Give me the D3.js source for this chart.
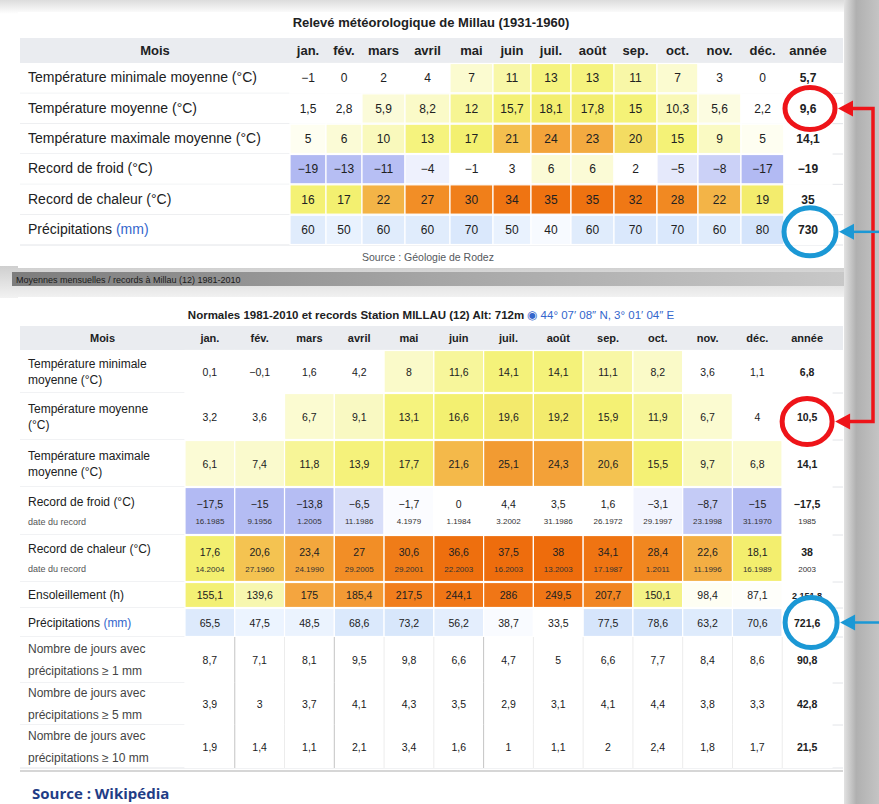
<!DOCTYPE html>
<html><head><meta charset="utf-8">
<script src="https://cdn.jsdelivr.net/npm/d3@7"></script>
<style>body{margin:0;background:#fff;} svg{display:block;font-family:"Liberation Sans",Arial,sans-serif;}</style>
</head><body><svg id="c" width="879" height="804"></svg>
<script>
// ---------- DATA : table 1 (1931-1960) ----------
const moisTop = ["jan.","fév.","mars","avril","mai","juin","juil.","août","sep.","oct.","nov.","déc.","année"];
const topTmin   = [-1, 0, 2, 4, 7, 11, 13, 13, 11, 7, 3, 0, 5.7];
const topTmoy   = [1.5, 2.8, 5.9, 8.2, 12, 15.7, 18.1, 17.8, 15, 10.3, 5.6, 2.2, 9.6];
const topTmax   = [5, 6, 10, 13, 17, 21, 24, 23, 20, 15, 9, 5, 14.1];
const topFroid  = [-19, -13, -11, -4, -1, 3, 6, 6, 2, -5, -8, -17, -19];
const topChaleur= [16, 17, 22, 27, 30, 34, 35, 35, 32, 28, 22, 19, 35];
const topPrecip = [60, 50, 60, 60, 70, 50, 40, 60, 70, 70, 60, 80, 730];
const topRows = ["Température minimale moyenne (°C)","Température moyenne (°C)","Température maximale moyenne (°C)","Record de froid (°C)","Record de chaleur (°C)","Précipitations"];

// ---------- DATA : table 2 (1981-2010) ----------
const moisBot = ["jan.","fév.","mars","avril","mai","juin","juil.","août","sep.","oct.","nov.","déc.","année"];
const botTmin   = [0.1, -0.1, 1.6, 4.2, 8.0, 11.6, 14.1, 14.1, 11.1, 8.2, 3.6, 1.1, 6.8];
const botTmoy   = [3.2, 3.6, 6.7, 9.1, 13.1, 16.6, 19.6, 19.2, 15.9, 11.9, 6.7, 4, 10.5];
const botTmax   = [6.1, 7.4, 11.8, 13.9, 17.7, 21.6, 25.1, 24.3, 20.6, 15.5, 9.7, 6.8, 14.1];
const botFroid  = [-17.5, -15, -13.8, -6.5, -1.7, 0, 4.4, 3.5, 1.6, -3.1, -8.7, -15, -17.5];
const botFroidDates = ["16.1985","9.1956","1.2005","11.1986","4.1979","1.1984","3.2002","31.1986","26.1972","29.1997","23.1998","31.1970","1985"];
const botChaleur= [17.6, 20.6, 23.4, 27, 30.6, 36.6, 37.5, 38, 34.1, 28.4, 22.6, 18.1, 38];
const botChaleurDates = ["14.2004","27.1960","24.1990","29.2005","29.2001","22.2003","16.2003","13.2003","17.1987","1.2011","11.1996","16.1989","2003"];
const botSoleil = [155.1, 139.6, 175, 185.4, 217.5, 244.1, 286, 249.5, 207.7, 150.1, 98.4, 87.1, 2151.8];
const botPrecip = [65.5, 47.5, 48.5, 68.6, 73.2, 56.2, 38.7, 33.5, 77.5, 78.6, 63.2, 70.6, 721.6];
const botJ1  = [8.7, 7.1, 8.1, 9.5, 9.8, 6.6, 4.7, 5, 6.6, 7.7, 8.4, 8.6, 90.8];
const botJ5  = [3.9, 3.0, 3.7, 4.1, 4.3, 3.5, 2.9, 3.1, 4.1, 4.4, 3.8, 3.3, 42.8];
const botJ10 = [1.9, 1.4, 1.1, 2.1, 3.4, 1.6, 1.0, 1.1, 2.0, 2.4, 1.8, 1.7, 21.5];

// ---------- helpers ----------
const svg = d3.select("#c");
const defs = svg.append("defs");
const frNum = v => {
  if (Math.abs(v) >= 1000) return d3.format(",.1f")(v).replace(/,/g," ").replace(".",",");
  return String(v).replace(".",",").replace("-","−");
};
const tempColor = d3.scaleLinear()
  .domain([-20,-10,-7,-4,-1,4.5,6,10,13,17,19.7,20.5,23,27,31,38])
  .range(["#b0b8f2","#b8c0f4","#d4daf8","#eef1fd","#ffffff","#ffffff","#fbfbd6","#f9f9bc","#f5f37e","#f3f070","#f3ea6c","#f4c452","#f3aa40","#f28e26","#ef7a16","#ee6c0c"])
  .clamp(true);
const sunColor = d3.scaleLinear().domain([80,120,140,155,170,200,230]).range(["#ffffff","#fcfce4","#f7f7ae","#f3f074","#f4aa44","#f28a26","#f07616"]).clamp(true);
const rainColor = d3.scaleLinear().domain([35,45,60,80]).range(["#ffffff","#eef5ff","#e0ecfc","#d4e4fb"]).clamp(true);

// gradients
function lin(id, x2, y2, stops){
  const g = defs.append("linearGradient").attr("id",id).attr("x1",0).attr("y1",0).attr("x2",x2).attr("y2",y2);
  stops.forEach(s=>g.append("stop").attr("offset",s[0]).attr("stop-color",s[1]));
}
lin("gRight",1,0,[[0,"#e2e2e2"],[0.35,"#b0b0b0"],[1,"#c4c4c4"]]);
lin("gTop",0,1,[[0,"#dcdcdc"],[1,"#ffffff"]]);
lin("gBar",1,0,[[0,"#7d7d7d"],[0.5,"#a5a5a5"],[1,"#c8c8c8"]]);
lin("gMid",0,1,[[0,"#cfcfcf"],[1,"#f2f2f2"]]);

// background pieces
svg.append("rect").attr("x",0).attr("y",0).attr("width",879).attr("height",14).attr("fill","url(#gTop)");
svg.append("rect").attr("x",0).attr("y",266).attr("width",845).attr("height",32).attr("fill","url(#gMid)");
svg.append("rect").attr("x",12).attr("y",272).attr("width",833).attr("height",14).attr("fill","url(#gBar)");
svg.append("text").attr("x",16).attr("y",282.5).attr("font-size",9).attr("fill","#1a1a1a")
  .text("Moyennes mensuelles / records à Millau (12) 1981-2010");
svg.append("rect").attr("x",18).attr("y",12).attr("width",826).attr("height",256).attr("fill","#fff");
svg.append("rect").attr("x",18).attr("y",297).attr("width",826).attr("height",476).attr("fill","#fff");
svg.append("rect").attr("x",844).attr("y",0).attr("width",35).attr("height",804).attr("fill","url(#gRight)");

// ---------- generic table drawing ----------
function drawTable(cfg){
  const g = svg.append("g");
  const {x, xw, rows, yOf, hOf, labelX0, labelX1, headerY0, headerY1, fsVal, fsHead, fsLab} = cfg;
  g.append("rect").attr("x",labelX0).attr("y",headerY0).attr("width",cfg.right-labelX0).attr("height",headerY1-headerY0).attr("fill","#eaecf0");
  g.append("text").attr("x",(labelX0+labelX1)/2).attr("y",(headerY0+headerY1)/2+4).attr("text-anchor","middle")
    .attr("font-size",fsHead).attr("font-weight","bold").attr("fill","#202122").text("Mois");
  g.selectAll("text.h").data(cfg.mois).join("text").attr("class","h")
    .attr("x",d=>x(d)+xw(d)/2).attr("y",(headerY0+headerY1)/2+4).attr("text-anchor","middle")
    .attr("font-size",fsHead).attr("font-weight","bold").attr("fill","#202122").text(d=>d);
  rows.forEach(r=>{
    const y0 = yOf(r.key), h = hOf(r.key);
    g.append("rect").attr("x",labelX0).attr("y",y0).attr("width",labelX1-labelX0).attr("height",h).attr("fill","#fff");
    g.append("line").attr("x1",labelX0).attr("x2",cfg.right).attr("y1",y0+h).attr("y2",y0+h).attr("stroke","#e2e4e8").attr("stroke-width",1);
    const lines = r.label;
    const lt = g.append("text").attr("x",labelX0+8).attr("font-size",fsLab).attr("fill", r.labFill || "#202122");
    lines.forEach((ln,i)=>{
      const ts = lt.append("tspan").attr("x",labelX0+8)
        .attr("y", y0 + h/2 + 4 + (i-(lines.length-1)/2)*(r.lineGap||16));
      if (ln.small) ts.attr("font-size",fsLab-3).attr("fill","#555");
      if (ln.link){ ts.text(ln.t); ts.append("tspan").attr("fill","#3366cc").text(" ("+ln.link+")"); }
      else ts.text(ln.t);
    });
    const cells = r.vals.map((v,i)=>({v,m:cfg.mois[i],i}));
    g.selectAll(null).data(cells).join("rect")
      .attr("x",d=>x(d.m)).attr("y",y0+0.5).attr("width",d=>xw(d.m)).attr("height",h-1)
      .attr("fill",d=> d.i===12 ? "#fff" : (r.color? r.color(d.v) : "#fff"))
      .attr("stroke","#fff").attr("stroke-width",1.2);
    g.selectAll(null).data(cells).join("text")
      .attr("x",d=>x(d.m)+xw(d.m)/2).attr("y",y0+h/2+(r.dates? -3 : 4))
      .attr("text-anchor","middle")
      .attr("font-size",d=> (d.i===12 && Math.abs(d.v)>=1000) ? fsVal-1.5 : fsVal)
      .attr("font-weight",d=>d.i===12?"bold":"normal").attr("fill","#202122").text(d=>frNum(d.v));
    if (r.dates){
      g.selectAll(null).data(r.dates.map((v,i)=>({v,m:cfg.mois[i]}))).join("text")
        .attr("x",d=>x(d.m)+xw(d.m)/2).attr("y",y0+h/2+13)
        .attr("text-anchor","middle").attr("font-size",fsVal-2.5).attr("fill","#333").text(d=>d.v);
    }
    if (r.vlines){
      g.selectAll(null).data(cfg.mois.slice(1)).join("line")
        .attr("x1",d=>x(d)).attr("x2",d=>x(d)).attr("y1",y0).attr("y2",y0+h)
        .attr("stroke",(d,i)=> [0,2,5].includes(i) ? "#c4c4c4" : "#ececec").attr("stroke-width",1);
    }
  });
  return g;
}

// ---------- table 1 ----------
svg.append("text").attr("x",431).attr("y",27).attr("text-anchor","middle").attr("font-size",13).attr("font-weight","bold")
  .attr("fill","#202122").text("Relevé météorologique de Millau (1931-1960)");
const topW = [36,36,43,45,43,38,40,43,43,41,43,43,48];
const topLeft = Array.from(d3.cumsum([0,...topW])).slice(0,13).map(v=>290+v);
const xTop = d3.scaleOrdinal().domain(moisTop).range(topLeft);
const wTop = d3.scaleOrdinal().domain(moisTop).range(topW);
const yTop = d3.scaleBand().domain(topRows).range([63,245]);
drawTable({
  mois:moisTop, x:xTop, xw:wTop, yOf:k=>yTop(k), hOf:()=>yTop.bandwidth(),
  labelX0:20, labelX1:290, right:843, headerY0:38, headerY1:63, fsVal:12, fsHead:13, fsLab:14,
  rows:[
    {key:topRows[0], label:[{t:topRows[0]}], vals:topTmin, color:tempColor},
    {key:topRows[1], label:[{t:topRows[1]}], vals:topTmoy, color:tempColor},
    {key:topRows[2], label:[{t:topRows[2]}], vals:topTmax, color:tempColor},
    {key:topRows[3], label:[{t:topRows[3]}], vals:topFroid, color:tempColor},
    {key:topRows[4], label:[{t:topRows[4]}], vals:topChaleur, color:tempColor},
    {key:topRows[5], label:[{t:"Précipitations",link:"mm"}], vals:topPrecip, color:rainColor}
  ]
});
svg.append("text").attr("x",428).attr("y",261).attr("text-anchor","middle").attr("font-size",10.5).attr("fill","#54595d")
  .text("Source : Géologie de Rodez");

// ---------- table 2 ----------
const t2 = svg.append("text").attr("x",431).attr("y",319).attr("text-anchor","middle").attr("font-size",11.5).attr("fill","#202122");
t2.append("tspan").attr("font-weight","bold").text("Normales 1981-2010 et records Station MILLAU (12) Alt: 712m ");
t2.append("tspan").attr("fill","#3366cc").text("◉ 44° 07′ 08″ N, 3° 01′ 04″ E");
const botKeys = ["tmin","tmoy","tmax","froid","chaleur","soleil","precip","j1","j5","j10"];
const botH = [43,47,47,48,47,26,29,46,42,43];
const botTopY = Array.from(d3.cumsum([0,...botH])).slice(0,10).map(v=>350+v);
const yBot = d3.scaleOrdinal().domain(botKeys).range(botTopY);
const hBot = d3.scaleOrdinal().domain(botKeys).range(botH);
const xBot = d3.scaleBand().domain(moisBot).range([185,832]);
drawTable({
  mois:moisBot, x:xBot, xw:()=>xBot.bandwidth(), yOf:k=>yBot(k), hOf:k=>hBot(k),
  labelX0:20, labelX1:185, right:843, headerY0:326, headerY1:350, fsVal:10.5, fsHead:11, fsLab:12,
  rows:[
    {key:"tmin", label:[{t:"Température minimale"},{t:"moyenne (°C)"}], vals:botTmin, color:tempColor},
    {key:"tmoy", label:[{t:"Température moyenne"},{t:"(°C)"}], vals:botTmoy, color:tempColor},
    {key:"tmax", label:[{t:"Température maximale"},{t:"moyenne (°C)"}], vals:botTmax, color:tempColor},
    {key:"froid", label:[{t:"Record de froid (°C)"},{t:"date du record",small:true}], lineGap:19, vals:botFroid, dates:botFroidDates, color:tempColor},
    {key:"chaleur", label:[{t:"Record de chaleur (°C)"},{t:"date du record",small:true}], lineGap:19, vals:botChaleur, dates:botChaleurDates, color:tempColor},
    {key:"soleil", label:[{t:"Ensoleillement (h)"}], vals:botSoleil, color:sunColor},
    {key:"precip", label:[{t:"Précipitations",link:"mm"}], vals:botPrecip, color:rainColor},
    {key:"j1", label:[{t:"Nombre de jours avec"},{t:"précipitations ≥ 1 mm"}], lineGap:22, labFill:"#444", vals:botJ1, vlines:true},
    {key:"j5", label:[{t:"Nombre de jours avec"},{t:"précipitations ≥ 5 mm"}], lineGap:22, labFill:"#444", vals:botJ5, vlines:true},
    {key:"j10", label:[{t:"Nombre de jours avec"},{t:"précipitations ≥ 10 mm"}], lineGap:22, labFill:"#444", vals:botJ10, vlines:true}
  ]
});
svg.append("line").attr("x1",20).attr("x2",843).attr("y1",771).attr("y2",771).attr("stroke","#d6d6d6").attr("stroke-width",2);

svg.append("text").attr("x",32).attr("y",799).attr("font-family","'Open Sans',sans-serif").attr("font-size",15).attr("font-weight","bold")
  .attr("fill","#1f3d86").text("Source : Wikipédia");

// ---------- annotations (circles + arrows) ----------
const RED = "#ee1419", BLUE = "#1b98d5";
const cxTop = xTop("année")+wTop("année")/2 + 2;
const cyTopMoy = yTop(topRows[1]) + yTop.bandwidth()/2;
const cyTopPre = yTop(topRows[5]) + yTop.bandwidth()/2 + 2;
const cxBot = xBot("année")+xBot.bandwidth()/2;
const cyBotMoy = yBot("tmoy") + hBot("tmoy")/2 + 5;
const cyBotPre = yBot("precip") + hBot("precip")/2;
const ann = svg.append("g").attr("fill","none");
ann.append("ellipse").attr("cx",cxTop).attr("cy",cyTopMoy).attr("rx",25).attr("ry",21).attr("stroke",RED).attr("stroke-width",5);
ann.append("ellipse").attr("cx",cxTop).attr("cy",cyTopPre).attr("rx",26).attr("ry",24).attr("stroke",BLUE).attr("stroke-width",5);
ann.append("ellipse").attr("cx",cxBot).attr("cy",cyBotMoy).attr("rx",25).attr("ry",23).attr("stroke",RED).attr("stroke-width",5);
ann.append("ellipse").attr("cx",cxBot+4).attr("cy",cyBotPre).attr("rx",26).attr("ry",25).attr("stroke",BLUE).attr("stroke-width",5);
const xr = 873;
ann.append("path").attr("d",`M${xr-24},${cyTopMoy}H${xr}V${cyBotMoy}H${xr-24}`).attr("stroke",RED).attr("stroke-width",3.5);
function head(y,tip,col){
  svg.append("path").attr("d",`M${tip},${y}L${tip+15},${y-8}L${tip+15},${y+8}Z`).attr("fill",col);
}
head(cyTopMoy, cxTop+28, RED);
head(cyBotMoy, cxBot+28, RED);
ann.append("line").attr("x1",879).attr("x2",cxTop+40).attr("y1",cyTopPre).attr("y2",cyTopPre).attr("stroke",BLUE).attr("stroke-width",2.5);
ann.append("line").attr("x1",879).attr("x2",cxBot+44).attr("y1",cyBotPre).attr("y2",cyBotPre).attr("stroke",BLUE).attr("stroke-width",2.5);
head(cyTopPre, cxTop+29, BLUE);
head(cyBotPre, cxBot+33, BLUE);
</script></body></html>
